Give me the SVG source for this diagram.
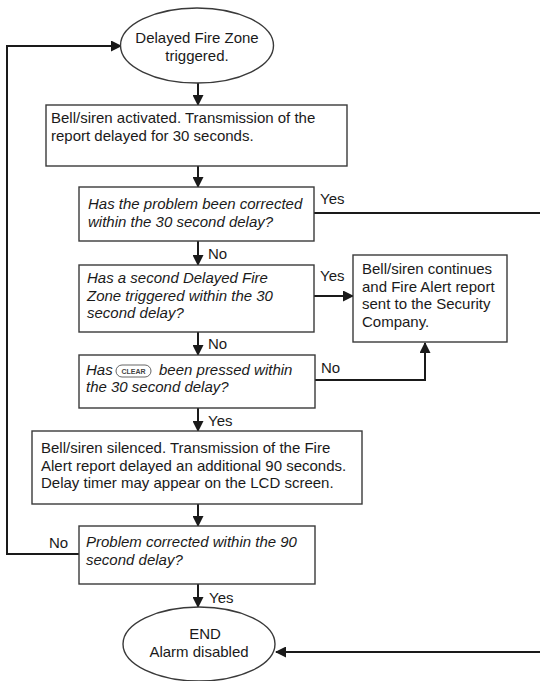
<svg xmlns="http://www.w3.org/2000/svg" width="540" height="681" viewBox="0 0 540 681">
<style>
.box{fill:#fff;stroke:#3a3a3a;stroke-width:1.4}
.t{font-family:"Liberation Sans",Arial,sans-serif;font-size:15px;fill:#1a1a1a}
.i{font-style:italic}
.lbl{font-family:"Liberation Sans",Arial,sans-serif;font-size:15px;fill:#1a1a1a}
.c{fill:none;stroke:#1a1a1a;stroke-width:2}
.key{fill:#fff;stroke:#555;stroke-width:0.9}
.keyt{font-family:"Liberation Sans",Arial,sans-serif;font-size:7px;font-weight:bold;fill:#444}
</style>
<defs>
<marker id="ah" markerWidth="11" markerHeight="11" refX="10" refY="5.5" orient="auto" markerUnits="userSpaceOnUse">
<path d="M0,0 L11,5.5 L0,11 Z" fill="#1a1a1a"/>
</marker>
</defs>
<g id="connectors">
<path class="c" d="M198,83 V105" marker-end="url(#ah)"/>
<path class="c" d="M198,166 V187" marker-end="url(#ah)"/>
<path class="c" d="M198,241 V265" marker-end="url(#ah)"/>
<path class="c" d="M198,332 V355" marker-end="url(#ah)"/>
<path class="c" d="M198,408 V431" marker-end="url(#ah)"/>
<path class="c" d="M198,504 V526" marker-end="url(#ah)"/>
<path class="c" d="M198,584 V607" marker-end="url(#ah)"/>
<path class="c" d="M314,296 H353" marker-end="url(#ah)"/>
<path class="c" d="M315,380 H425 V343" marker-end="url(#ah)"/>
<path class="c" d="M79,554 H7 V46 H121" marker-end="url(#ah)"/>
<path class="c" d="M314,213 H560 V652 H276" marker-end="url(#ah)"/>
<text class="lbl" x="320" y="204">Yes</text>
<text class="lbl" x="208" y="259">No</text>
<text class="lbl" x="320" y="281">Yes</text>
<text class="lbl" x="208" y="349">No</text>
<text class="lbl" x="321" y="373">No</text>
<text class="lbl" x="208" y="426">Yes</text>
<text class="lbl" x="49" y="548">No</text>
<text class="lbl" x="209" y="603">Yes</text>
</g>
<g id="start">
<ellipse class="box" cx="197" cy="45.5" rx="76.5" ry="37.5"/>
<text class="t" x="197" y="43" text-anchor="middle">Delayed Fire Zone</text>
<text class="t" x="197" y="61" text-anchor="middle">triggered.</text>
</g>
<g id="activate">
<rect class="box" x="46" y="105" width="301" height="61"/>
<text class="t" x="51" y="123">Bell/siren activated. Transmission of the</text>
<text class="t" x="51" y="141">report delayed for 30 seconds.</text>
</g>
<g id="q1">
<rect class="box" x="79" y="187" width="235" height="54"/>
<text class="t i" x="88" y="209">Has the problem been corrected</text>
<text class="t i" x="88" y="227">within the 30 second delay?</text>
</g>
<g id="q2">
<rect class="box" x="79" y="265" width="235" height="67"/>
<text class="t i" x="87" y="283">Has a second Delayed Fire</text>
<text class="t i" x="87" y="301">Zone triggered within the 30</text>
<text class="t i" x="87" y="318">second delay?</text>
</g>
<g id="alert">
<rect class="box" x="353" y="255" width="154" height="87"/>
<text class="t" x="362" y="274">Bell/siren continues</text>
<text class="t" x="362" y="292">and Fire Alert report</text>
<text class="t" x="362" y="309">sent to the Security</text>
<text class="t" x="362" y="327">Company.</text>
</g>
<g id="q3">
<rect class="box" x="79" y="355" width="236" height="53"/>
<text class="t i" x="86" y="375">Has</text>
<rect class="key" x="116" y="365" width="35" height="12" rx="6"/>
<text class="keyt" x="133.5" y="374" text-anchor="middle">CLEAR</text>
<text class="t i" x="159" y="375">been pressed within</text>
<text class="t i" x="86" y="392">the 30 second delay?</text>
</g>
<g id="silenced">
<rect class="box" x="32" y="431" width="330" height="73"/>
<text class="t" x="41" y="453">Bell/siren silenced. Transmission of the Fire</text>
<text class="t" x="41" y="471">Alert report delayed an additional 90 seconds.</text>
<text class="t" x="41" y="488">Delay timer may appear on the LCD screen.</text>
</g>
<g id="q4">
<rect class="box" x="79" y="526" width="236" height="58"/>
<text class="t i" x="86" y="547">Problem corrected within the 90</text>
<text class="t i" x="86" y="565">second delay?</text>
</g>
<g id="end">
<ellipse class="box" cx="199" cy="644" rx="76" ry="37"/>
<text class="t" x="205" y="639" text-anchor="middle">END</text>
<text class="t" x="199" y="657" text-anchor="middle">Alarm disabled</text>
</g>
</svg>
